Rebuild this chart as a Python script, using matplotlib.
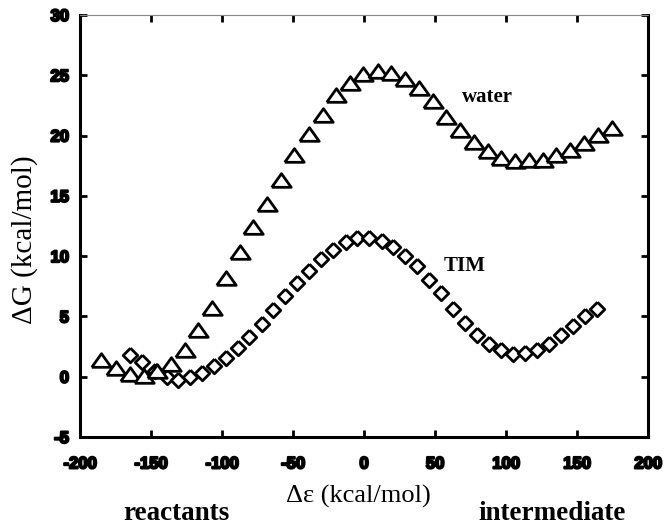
import matplotlib.pyplot as plt
import matplotlib.patheffects as pe

plt.rcParams['axes.unicode_minus'] = False

# free energy profile in water (triangles)
water_x = [-185, -175, -165, -155, -146, -136, -126, -117, -107, -97,
           -87, -78, -68, -58.5, -49, -39, -29, -20, -10, -0.5,
           9.5, 19, 29, 39, 48.5, 58, 67.5, 77.5, 87, 96.5,
           106, 116, 126, 135, 145, 155, 165, 174.5]
water_g = [1.4, 0.72, 0.22, 0.02, 0.45, 1.05, 2.18, 3.84, 5.7, 8.15,
           10.34, 12.38, 14.32, 16.33, 18.35, 20.1, 21.72, 23.38, 24.35, 25.12,
           25.32, 25.18, 24.68, 23.94, 22.83, 21.58, 20.5, 19.45, 18.68, 18.13,
           17.85, 17.94, 17.99, 18.41, 18.82, 19.38, 20.07, 20.62]

# free energy profile in the enzyme (diamonds)
tim_x = [-165, -156, -147, -139, -131, -122.5, -114, -105.5, -97, -89,
         -81, -72, -64, -55.5, -47, -38.5, -30.3, -21.6, -13, -4.7,
         3.5, 12.5, 20.6, 29, 37, 46, 54.5, 62.7, 71, 79.4,
         88, 96.5, 104.7, 113.4, 121.6, 130.3, 138.5, 147, 155.3, 164]
tim_g = [1.77, 1.22, 0.47, 0.0, -0.27, 0.0, 0.33, 0.88, 1.57, 2.4,
         3.32, 4.34, 5.5, 6.68, 7.78, 8.78, 9.76, 10.53, 11.14, 11.5,
         11.5, 11.22, 10.75, 9.98, 9.15, 7.99, 6.94, 5.58, 4.45, 3.48,
         2.71, 2.24, 1.91, 1.97, 2.24, 2.74, 3.42, 4.23, 5.0, 5.64]

x_ticks = [-200, -150, -100, -50, 0, 50, 100, 150, 200]
y_ticks = [-5, 0, 5, 10, 15, 20, 25, 30]

flat_triangle = [(-1, -0.7), (1, -0.7), (0, 0.7), (-1, -0.7)]
diamond = [(0, 1), (1, 0), (0, -1), (-1, 0), (0, 1)]

fig = plt.figure(figsize=(6.64, 5.26), dpi=100)
ax = fig.add_axes([0.1205, 0.1692, 0.8555, 0.8023])

ax.plot(tim_x, tim_g, linestyle='none', marker=diamond, markersize=10.5,
        markerfacecolor='white', markeredgecolor='black', markeredgewidth=2)
ax.plot(water_x, water_g, linestyle='none', marker=flat_triangle, markersize=14,
        markerfacecolor='white', markeredgecolor='black', markeredgewidth=2)

ax.set_xlim(-200, 200)
ax.set_ylim(-5, 30)
ax.set_xticks(x_ticks)
ax.set_yticks(y_ticks)

ax.tick_params(direction='in', length=5, width=2, top=True, right=True,
               labelsize=12, pad=8)
ax.tick_params(axis='x', pad=14)
for lab in ax.get_xticklabels() + ax.get_yticklabels():
    lab.set_fontfamily('Liberation Sans')
    lab.set_fontweight('bold')
    lab.set_path_effects([pe.withStroke(linewidth=1.5, foreground='black')])

for side in ['left', 'bottom', 'right']:
    ax.spines[side].set_linewidth(2.2)
ax.spines['top'].set_linewidth(0.8)
ax.spines['top'].set_color('#888888')
ax.spines['top'].set_linestyle((0, (1, 1)))

serif = 'Liberation Serif'
ax.text(87, 23.2, 'water', family=serif, fontweight='bold', fontsize=15,
        ha='center', va='center')
ax.text(71, 9.2, 'TIM', family=serif, fontweight='bold', fontsize=15,
        ha='center', va='center')

fig.text(358 / 664, 1 - 496 / 526, '\u0394\u03b5 (kcal/mol)', family=serif,
         fontsize=19, ha='center', va='center')
fig.text(25 / 664, 1 - 240 / 526, '\u0394G (kcal/mol)', family=serif,
         fontsize=21, ha='center', va='center', rotation=90)
fig.text(176 / 664, 1 - 514 / 526, 'reactants', family=serif, fontweight='bold',
         fontsize=19.5, ha='center', va='center')
fig.text(552 / 664, 1 - 514 / 526, 'intermediate', family=serif, fontweight='bold',
         fontsize=19.5, ha='center', va='center')

fig.savefig('out.png', dpi=100)
